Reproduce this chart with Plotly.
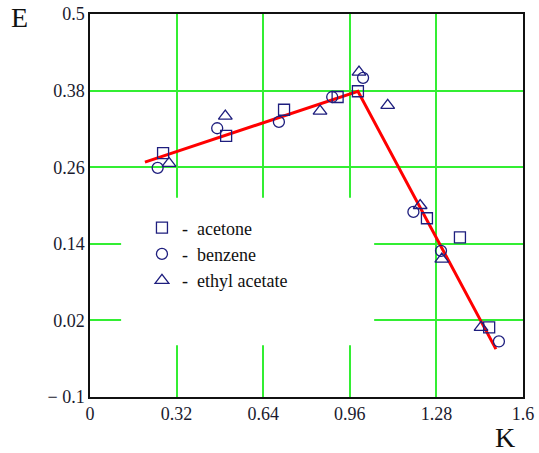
import plotly.graph_objects as go

# Data
acetone_k = [0.27, 0.503, 0.717, 0.915, 0.99, 1.245, 1.367, 1.475]
acetone_e = [0.282, 0.309, 0.35, 0.37, 0.379, 0.18, 0.15, 0.009]

benzene_k = [0.25, 0.47, 0.698, 0.895, 1.009, 1.195, 1.297, 1.511]
benzene_e = [0.259, 0.321, 0.331, 0.37, 0.40, 0.19, 0.129, -0.013]

ethyl_k = [0.292, 0.50, 0.85, 0.994, 1.10, 1.22, 1.30, 1.445]
ethyl_e = [0.266, 0.34, 0.348, 0.409, 0.357, 0.20, 0.116, 0.009]

fit_k = [0.203, 0.99, 1.50]
fit_e = [0.268, 0.379, -0.025]

x_ticks = [0, 0.32, 0.64, 0.96, 1.28, 1.6]
x_labels = ["0", "0.32", "0.64", "0.96", "1.28", "1.6"]
y_ticks = [-0.1, 0.02, 0.14, 0.26, 0.38, 0.5]
y_labels = ["\u2212 0.1", "0.02", "0.14", "0.26", "0.38", "0.5"]

legend_box_x = [0.115, 1.05]
legend_box_y = [-0.019, 0.212]

navy = "#1e1e7e"
serif = "Liberation Serif, Times New Roman, serif"

fig = go.Figure()
fig.add_trace(go.Scatter(
    x=fit_k, y=fit_e, mode="lines", line=dict(color="#ff0000", width=3),
    showlegend=False, hoverinfo="skip"))
fig.add_trace(go.Scatter(
    x=acetone_k, y=acetone_e, mode="markers", name="-  acetone",
    marker=dict(symbol="square-open", size=11, color=navy, line=dict(width=1.3, color=navy))))
fig.add_trace(go.Scatter(
    x=benzene_k, y=benzene_e, mode="markers", name="-  benzene",
    marker=dict(symbol="circle-open", size=11, color=navy, line=dict(width=1.3, color=navy))))
fig.add_trace(go.Scatter(
    x=ethyl_k, y=ethyl_e, mode="markers", name="-  ethyl acetate",
    marker=dict(symbol="triangle-up-open", size=12, color=navy, line=dict(width=1.3, color=navy))))

fig.add_shape(type="rect", xref="x", yref="y",
              x0=legend_box_x[0], x1=legend_box_x[1], y0=legend_box_y[0], y1=legend_box_y[1],
              fillcolor="white", line=dict(width=0), layer="between")

axis_common = dict(showgrid=True, gridcolor="#33ee33", gridwidth=1.5, automargin=False,
                   zeroline=False, showline=True, linecolor="#111111", linewidth=1.5,
                   mirror=True, ticks="", ticklabeloverflow="allow",
                   tickfont=dict(family=serif, size=18, color="#1a1a2e"))

fig.update_xaxes(range=[0, 1.6], tickvals=x_ticks, ticktext=x_labels, **axis_common)
fig.update_yaxes(range=[-0.1, 0.5], tickvals=y_ticks, ticktext=y_labels, **axis_common)

fig.add_annotation(text="E", xref="paper", yref="paper", x=-0.162, y=0.99,
                   xanchor="center", yanchor="middle", showarrow=False,
                   font=dict(family=serif, size=28, color="#111111"))
fig.add_annotation(text="K", xref="paper", yref="paper", x=0.958, y=-0.107,
                   xanchor="center", yanchor="middle", showarrow=False,
                   font=dict(family=serif, size=28, color="#111111"))

fig.update_layout(
    width=539, height=453,
    margin=dict(l=90, r=16, t=14, b=56, autoexpand=False),
    plot_bgcolor="white", paper_bgcolor="white",
    showlegend=True,
    legend=dict(x=0.12, y=0.49, xanchor="left", yanchor="top",
                bgcolor="rgba(0,0,0,0)", font=dict(family=serif, size=18, color="#111111"),
                itemwidth=30, tracegroupgap=0),
)

fig.write_html("out.html", config={"displayModeBar": False},
               post_script="document.body.style.margin='0';document.body.style.padding='0';")
